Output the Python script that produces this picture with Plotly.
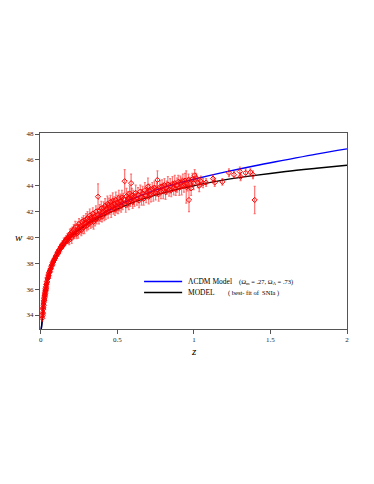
import plotly.graph_objects as go

# ---- model curves ----
lcdm_z = [0.003, 0.006, 0.01, 0.015, 0.02, 0.03, 0.04, 0.05, 0.07, 0.1, 0.15, 0.2, 0.3, 0.4, 0.5,
          0.6, 0.7, 0.8, 0.9, 1.0, 1.2, 1.4, 1.6, 1.8, 2.0]
lcdm_w = [32.9, 33.2, 33.65, 34.4, 34.95, 35.85, 36.5, 37.0, 37.75, 38.55, 39.45, 40.1, 41.05, 41.8, 42.45,
          43.0, 43.45, 43.85, 44.2, 44.5, 45.05, 45.55, 46.0, 46.45, 46.85]

model_z = [0.003, 0.006, 0.01, 0.015, 0.02, 0.03, 0.04, 0.05, 0.07, 0.1, 0.15, 0.2, 0.3, 0.4, 0.5,
           0.6, 0.7, 0.8, 0.9, 1.0, 1.2, 1.4, 1.6, 1.8, 2.0]
model_w = [32.9, 33.2, 33.65, 34.4, 34.95, 35.85, 36.5, 37.0, 37.75, 38.55, 39.45, 40.1, 41.0, 41.65, 42.2,
           42.7, 43.1, 43.45, 43.75, 44.0, 44.45, 44.8, 45.1, 45.35, 45.58]

# ---- SNIa data ----
sn_z = [
    0.010, 0.012, 0.013, 0.014, 0.015, 0.016, 0.017, 0.018, 0.019, 0.020,
    0.021, 0.022, 0.023, 0.024, 0.025, 0.026, 0.027, 0.028, 0.029, 0.030,
    0.031, 0.032, 0.033, 0.034, 0.035, 0.036, 0.038, 0.040, 0.042, 0.044,
    0.046, 0.048, 0.050, 0.052, 0.054, 0.056, 0.058, 0.060, 0.063, 0.066,
    0.069, 0.072, 0.075, 0.078, 0.081, 0.084, 0.087, 0.090, 0.094, 0.098,
    0.102, 0.106, 0.110, 0.114, 0.118, 0.122, 0.126, 0.130, 0.134, 0.138,
    0.142, 0.146, 0.150, 0.154, 0.158, 0.162, 0.166, 0.170, 0.174, 0.178,
    0.182, 0.186, 0.190, 0.194, 0.198, 0.202, 0.206, 0.210, 0.215, 0.220,
    0.225, 0.230, 0.235, 0.240, 0.245, 0.250, 0.255, 0.260, 0.265, 0.270,
    0.275, 0.280, 0.285, 0.290, 0.295, 0.300, 0.305, 0.310, 0.315, 0.320,
    0.325, 0.330, 0.335, 0.340, 0.345, 0.350, 0.355, 0.360, 0.365, 0.370,
    0.374, 0.380, 0.385, 0.390, 0.395, 0.400, 0.405, 0.410, 0.415, 0.420,
    0.425, 0.430, 0.435, 0.440, 0.445, 0.450, 0.455, 0.460, 0.465, 0.470,
    0.475, 0.480, 0.485, 0.490, 0.495, 0.500, 0.505, 0.510, 0.515, 0.520,
    0.525, 0.530, 0.535, 0.540, 0.548, 0.555, 0.560, 0.565, 0.570, 0.575,
    0.580, 0.585, 0.590, 0.595, 0.600, 0.605, 0.612, 0.620, 0.628, 0.635,
    0.642, 0.650, 0.658, 0.665, 0.672, 0.680, 0.688, 0.695, 0.700, 0.705,
    0.712, 0.720, 0.728, 0.735, 0.742, 0.750, 0.758, 0.762, 0.770, 0.778,
    0.785, 0.792, 0.800, 0.808, 0.815, 0.822, 0.830, 0.838, 0.845, 0.852,
    0.860, 0.868, 0.875, 0.882, 0.890, 0.898, 0.905, 0.912, 0.920, 0.928,
    0.935, 0.942, 0.950, 0.958, 0.965, 0.968, 0.975, 0.982, 0.990, 0.998,
    1.005, 1.015, 1.025, 1.035, 1.045, 1.060, 1.080, 1.125, 1.136, 1.186,
    1.229, 1.262, 1.300, 1.305, 1.338, 1.369, 1.386, 1.397,
]
sn_w = [
    33.75, 33.95, 34.2, 34.1, 34.45, 34.6, 34.5, 34.85, 34.75, 35.0,
    35.1, 35.25, 35.15, 35.45, 35.35, 35.6, 35.5, 35.75, 35.65, 35.9,
    35.85, 36.05, 35.95, 36.2, 36.1, 36.35, 36.4, 36.6, 36.55, 36.8,
    36.9, 36.85, 37.1, 37.05, 37.25, 37.3, 37.4, 37.35, 37.55, 37.6,
    37.75, 37.85, 37.9, 38.05, 38.1, 38.2, 38.25, 38.35, 38.4, 38.55,
    38.6, 38.7, 38.85, 38.8, 39.0, 39.05, 39.1, 39.25, 39.2, 39.35,
    39.45, 39.4, 39.6, 39.55, 39.7, 39.65, 39.85, 39.8, 39.95, 39.85,
    40.05, 39.8, 40.25, 40.1, 40.35, 39.95, 40.45, 40.2, 40.6, 40.25,
    40.8, 40.4, 40.3, 40.85, 40.45, 41.05, 40.6, 40.9, 40.55, 41.2,
    40.75, 41.3, 40.8, 41.1, 41.4, 40.9, 41.5, 41.05, 41.25, 41.7,
    41.15, 41.55, 41.3, 41.85, 41.2, 41.6, 41.4, 42.0, 41.45, 41.75,
    43.15, 41.5, 42.05, 41.7, 42.25, 41.6, 41.95, 42.3, 41.8, 42.45,
    41.9, 42.2, 42.6, 42.0, 42.5, 42.25, 42.75, 42.1, 42.45, 42.85,
    42.3, 42.6, 42.15, 42.9, 42.4, 42.7, 42.3, 43.05, 42.55, 42.8,
    42.45, 43.1, 42.65, 42.95, 44.35, 42.5, 43.2, 42.8, 43.0, 42.65,
    43.4, 42.9, 44.2, 43.25, 42.75, 43.1, 42.9, 43.45, 43.0, 43.3,
    42.85, 43.55, 43.1, 43.4, 43.0, 43.65, 43.25, 43.5, 43.95, 43.15,
    43.6, 43.3, 43.75, 43.4, 43.85, 43.45, 43.7, 44.45, 43.35, 43.9,
    43.55, 43.95, 43.6, 44.05, 43.5, 43.85, 44.1, 43.7, 44.0, 43.65,
    44.15, 43.8, 44.2, 43.75, 44.05, 44.3, 43.85, 44.25, 43.95, 44.35,
    44.0, 44.4, 43.9, 44.1, 44.45, 42.9, 44.15, 43.8, 44.5, 44.2,
    44.8, 44.6, 44.25, 44.0, 44.35, 44.2, 44.25, 44.55, 44.25, 44.3,
    45.0, 44.85, 45.1, 44.7, 45.0, 45.05, 44.85, 42.9,
]
sn_err = [
    0.25, 0.2, 0.3, 0.2, 0.25, 0.2, 0.3, 0.2, 0.25, 0.2,
    0.3, 0.2, 0.25, 0.2, 0.3, 0.2, 0.25, 0.2, 0.3, 0.25,
    0.2, 0.25, 0.2, 0.3, 0.2, 0.25, 0.2, 0.25, 0.3, 0.2,
    0.25, 0.2, 0.25, 0.3, 0.2, 0.25, 0.2, 0.3, 0.2, 0.25,
    0.2, 0.3, 0.25, 0.2, 0.25, 0.3, 0.2, 0.25, 0.2, 0.3,
    0.25, 0.3, 0.2, 0.25, 0.3, 0.2, 0.35, 0.25, 0.3, 0.2,
    0.3, 0.25, 0.35, 0.25, 0.3, 0.2, 0.3, 0.25, 0.35, 0.3,
    0.3, 0.35, 0.4, 0.3, 0.35, 0.4, 0.35, 0.3, 0.4, 0.35,
    0.45, 0.35, 0.4, 0.35, 0.5, 0.4, 0.35, 0.45, 0.4, 0.35,
    0.45, 0.4, 0.5, 0.35, 0.45, 0.4, 0.5, 0.45, 0.4, 0.5,
    0.45, 0.4, 0.5, 0.45, 0.55, 0.4, 0.5, 0.45, 0.4, 0.5,
    1.0, 0.45, 0.5, 0.45, 0.55, 0.4, 0.5, 0.45, 0.5, 0.55,
    0.5, 0.45, 0.6, 0.5, 0.55, 0.45, 0.5, 0.55, 0.45, 0.6,
    0.5, 0.55, 0.45, 0.6, 0.5, 0.55, 0.45, 0.6, 0.5, 0.55,
    0.5, 0.55, 0.5, 0.45, 0.9, 0.55, 0.6, 0.5, 0.55, 0.5,
    0.6, 0.5, 0.7, 0.55, 0.5, 0.55, 0.5, 0.6, 0.5, 0.55,
    0.55, 0.5, 0.6, 0.55, 0.5, 0.6, 0.55, 0.5, 0.65, 0.55,
    0.5, 0.55, 0.5, 0.6, 0.5, 0.55, 0.5, 0.7, 0.55, 0.5,
    0.55, 0.5, 0.6, 0.5, 0.55, 0.5, 0.6, 0.5, 0.55, 0.5,
    0.55, 0.5, 0.6, 0.5, 0.55, 0.5, 0.6, 0.5, 0.65, 0.55,
    0.5, 0.55, 1.25, 0.5, 0.45, 0.9, 0.5, 0.55, 0.45, 0.5,
    0.45, 0.35, 0.4, 0.45, 0.4, 0.35, 0.3, 0.3, 0.3, 0.25,
    0.3, 0.25, 0.35, 0.3, 0.3, 0.25, 0.3, 1.05,
]

y_ticks = [34, 36, 38, 40, 42, 44, 46, 48]
x_ticks = [0, 0.5, 1, 1.5, 2]
x_tick_text = ["0", "0.5", "1", "1.5", "2"]

legend_labels = ["\u039bCDM Model", "MODEL"]
legend_notes = ["(\u03a9<sub>m</sub> = .27, \u03a9<sub>\u039b</sub> = .73)", "( best- fit of  SNIa )"]

serif = "Liberation Serif, Times New Roman, serif"

fig = go.Figure()
fig.add_trace(go.Scatter(x=lcdm_z, y=lcdm_w, mode="lines", line=dict(color="#0000ff", width=1.4, shape="spline"),
                         showlegend=False))
fig.add_trace(go.Scatter(x=model_z, y=model_w, mode="lines", line=dict(color="black", width=1.4, shape="spline"),
                         showlegend=False))
fig.add_trace(go.Scatter(
    x=sn_z, y=sn_w, mode="markers",
    marker=dict(symbol="diamond-open", size=4, color="red", line=dict(width=1, color="red")),
    error_y=dict(type="data", array=sn_err, visible=True, color="rgba(255,0,0,0.55)",
                 thickness=1.2, width=1),
    showlegend=False, hoverinfo="skip",
))

# manual legend
leg_y = [0.242, 0.186]
leg_col = ["#0000ff", "black"]
note_x = [0.643, 0.606]
for yy, col, lab, note, nx in zip(leg_y, leg_col, legend_labels, legend_notes, note_x):
    fig.add_shape(type="line", xref="paper", yref="paper", x0=0.339, x1=0.463, y0=yy, y1=yy,
                  line=dict(color=col, width=1.4))
    fig.add_annotation(xref="paper", yref="paper", x=0.474, y=yy, text=lab, showarrow=False,
                       xanchor="left", yanchor="middle", font=dict(family=serif, size=7.5, color="black"))
    fig.add_annotation(xref="paper", yref="paper", x=nx, y=yy, text=note, showarrow=False,
                       xanchor="left", yanchor="middle", font=dict(family=serif, size=6.5, color="black"))

# axis labels
fig.add_annotation(xref="paper", yref="paper", x=-0.068, y=0.47, text="<i>w</i>", showarrow=False,
                   xanchor="center", yanchor="middle", font=dict(family=serif, size=11, color="black"))
fig.add_annotation(xref="paper", yref="paper", x=0.5, y=-0.112, text="<i>z</i>", showarrow=False,
                   xanchor="center", yanchor="middle", font=dict(family=serif, size=11, color="black"))

fig.update_layout(
    width=366, height=476,
    margin=dict(l=32, r=27, t=125, b=155),
    paper_bgcolor="white", plot_bgcolor="white",
    font=dict(family=serif, size=7, color="#222"),
    xaxis=dict(range=[-0.005, 2.0], tickvals=x_ticks, ticktext=x_tick_text, ticks="outside", ticklen=4,
               tickcolor="#555", showgrid=False, zeroline=False, showline=True, linecolor="#555",
               linewidth=1, mirror=True, tickfont=dict(size=7, color="#222")),
    yaxis=dict(range=[32.92, 48.08], tickvals=y_ticks, ticks="outside", ticklen=4, tickcolor="#555",
               showgrid=False, zeroline=False, showline=True, linecolor="#555", linewidth=1, mirror=True,
               tickfont=dict(size=7, color="#222")),
)
fig.write_html("out.html")
